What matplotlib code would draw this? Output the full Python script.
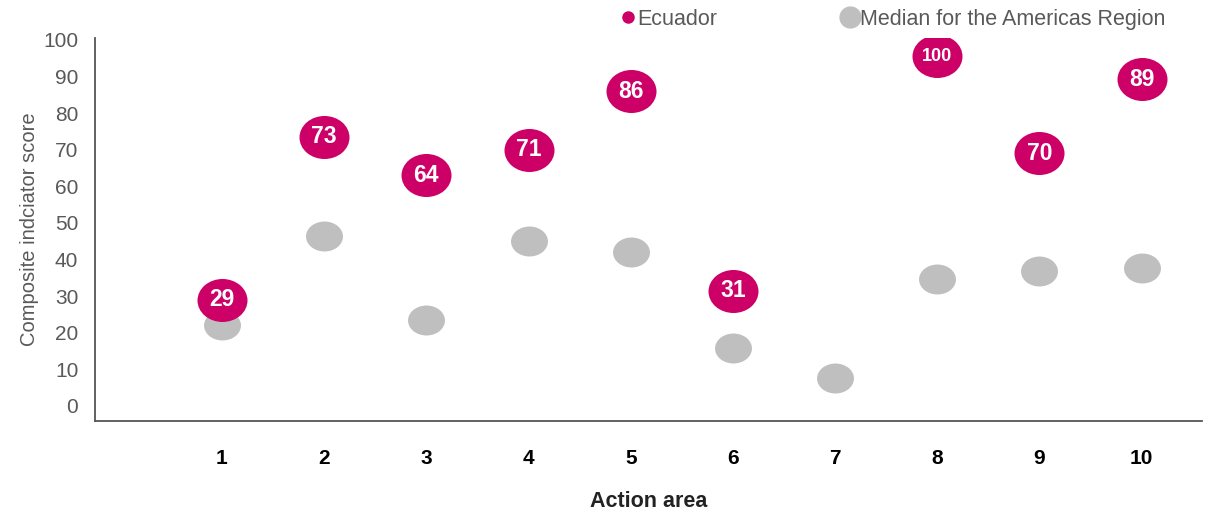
import numpy as np
import matplotlib
matplotlib.use("Agg")
import matplotlib.pyplot as plt
from matplotlib.path import Path
from matplotlib.lines import Line2D
from matplotlib import transforms

action_areas = [1, 2, 3, 4, 5, 6, 7, 8, 9, 10]
ecuador_score = [29, 73.5, 63, 70, 86, 31.5, np.nan, 95.5, 69, 89.3]
ecuador_label = ["29", "73", "64", "71", "86", "31", "", "100", "70", "89"]
americas_median = [22, 46.5, 23.5, 45, 42, 15.7, 7.7, 34.8, 37, 37.8]
y_ticks = [0, 10, 20, 30, 40, 50, 60, 70, 80, 90, 100]

MAGENTA = "#CC0066"
GREY = "#BFBFBF"
TXT = "#595959"


def ellipse_marker(w, h):
    circ = Path.unit_circle()
    return circ.transformed(transforms.Affine2D().scale(w, h))


def main():
    plt.rcParams["font.family"] = ["Liberation Sans", "DejaVu Sans"]
    fig = plt.figure(figsize=(12.08, 5.14), dpi=100)
    ax = fig.add_axes([0.0786, 0.181, 0.9164, 0.745])

    ax.scatter(action_areas, americas_median, marker=ellipse_marker(37, 30),
               s=26.6 ** 2, color=GREY, linewidths=0, zorder=2)
    ax.scatter(action_areas, ecuador_score, marker=ellipse_marker(50, 43),
               s=36 ** 2, color=MAGENTA, linewidths=0, zorder=3)
    for x, y, lab in zip(action_areas, ecuador_score, ecuador_label):
        if lab == "":
            continue
        fs = 13 if len(lab) > 2 else 16.5
        ax.text(x, y, lab, ha="center", va="center", color="white",
                fontsize=fs, fontweight="bold", zorder=4)

    ax.set_xlim(-0.243, 10.59)
    ax.set_ylim(-4.1, 100.5)
    ax.set_yticks(y_ticks)
    ax.set_yticklabels([str(v) for v in y_ticks], fontsize=15, color=TXT)
    ax.set_xticks(action_areas)
    ax.set_xticklabels([str(v) for v in action_areas], fontsize=15,
                       fontweight="bold", color="black")
    ax.tick_params(axis="y", length=0, pad=12)
    ax.tick_params(axis="x", length=0, pad=20)

    for side in ["top", "right"]:
        ax.spines[side].set_visible(False)
    for side in ["left", "bottom"]:
        ax.spines[side].set_color("#555555")
        ax.spines[side].set_linewidth(1.3)

    ax.set_xlabel("Action area", fontsize=15.5, fontweight="bold",
                  color="#222222", labelpad=17)
    ax.set_ylabel("Composite indciator score", fontsize=14.5, color=TXT,
                  labelpad=3)

    handles = [
        Line2D([], [], ls="none", marker="o", markersize=8, color=MAGENTA),
        Line2D([], [], ls="none", marker="o", markersize=15, color=GREY),
    ]
    fig.legend(handles, ["Ecuador", "Median for the Americas Region"], ncol=2,
               loc="center", bbox_to_anchor=(0.739, 0.962), frameon=False,
               fontsize=15.5, labelcolor=TXT, handlelength=0.7,
               handletextpad=0.1, columnspacing=5.8)

    fig.savefig("out.png", dpi=100)


if __name__ == "__main__":
    main()
